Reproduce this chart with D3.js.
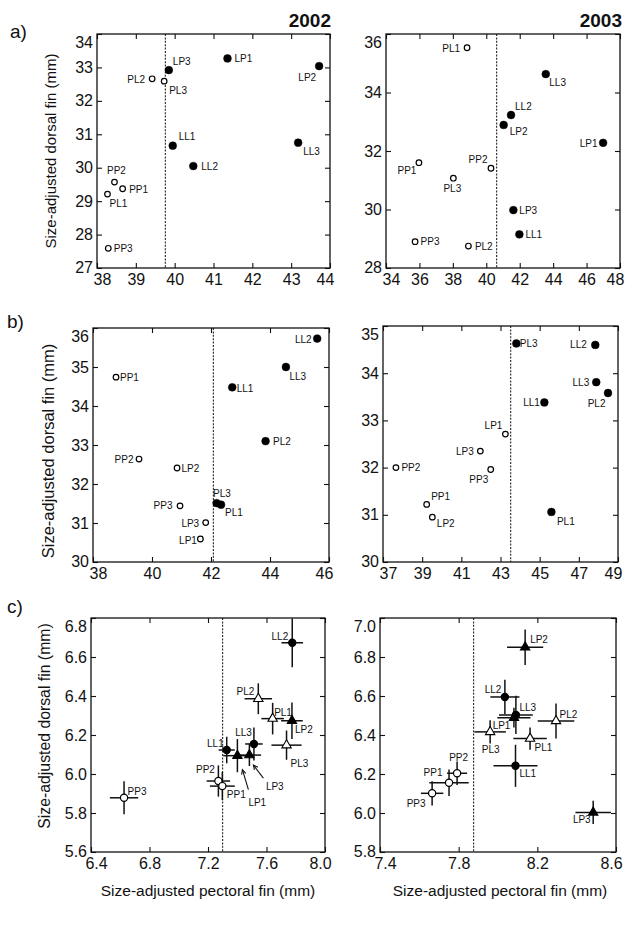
<!DOCTYPE html>
<html><head><meta charset="utf-8">
<script src="https://cdn.jsdelivr.net/npm/d3@7"></script>
<style>
body{margin:0;background:#fff}
svg{display:block}
text{font-family:"Liberation Sans",Arial,Helvetica,sans-serif;fill:#111}
</style>
</head><body>
<svg id="c" width="628" height="931"></svg>
<script>
// ---------------- DATA ----------------
// a) 2002
const popsA02 = ["LP3","LP1","LP2","PL2","PL3","LL1","LL2","LL3","PP2","PP1","PL1","PP3"];
const pectA02 = [39.85,41.36,43.72,39.42,39.73,39.95,40.48,43.18,38.45,38.66,38.27,38.29];
const dorsA02 = [32.92,33.27,33.04,32.66,32.59,30.66,30.05,30.75,29.57,29.37,29.21,27.59];
const grpA02  = [1,1,1,0,0,1,1,1,0,0,0,0];
const splitA02 = 39.76;
// a) 2003
const popsA03 = ["PL1","LL3","LL2","LP2","LP1","PP1","PP2","PL3","LP3","LL1","PP3","PL2"];
const pectA03 = [38.85,43.56,41.48,41.04,46.99,35.97,40.28,38.03,41.62,41.98,35.74,38.93];
const dorsA03 = [35.53,34.63,33.23,32.89,32.28,31.60,31.41,31.07,29.98,29.15,28.90,28.75];
const grpA03  = [0,1,1,1,1,0,0,0,1,1,0,0];
const splitA03 = 40.62;
// b) 2002
const popsB02 = ["LL2","LL3","PP1","LL1","PL2","PP2","LP2","PL3","PL1","PP3","LP3","LP1"];
const pectB02 = [45.60,44.54,38.78,42.72,43.85,39.56,40.85,42.19,42.34,40.95,41.82,41.64];
const dorsB02 = [35.73,35.00,34.74,34.48,33.10,32.64,32.41,31.51,31.47,31.44,31.01,30.59];
const grpB02  = [1,1,0,1,1,0,0,1,1,0,0,0];
const splitB02 = 42.08;
// b) 2003
const popsB03 = ["PL3","LL2","LL3","PL2","LL1","LP1","LP3","PP2","PP3","PP1","LP2","PL1"];
const pectB03 = [43.81,47.84,47.89,48.49,45.24,43.25,41.97,37.66,42.50,39.23,39.52,45.60];
const dorsB03 = [34.63,34.60,33.81,33.58,33.38,32.71,32.35,32.00,31.96,31.22,30.95,31.06];
const grpB03  = [1,1,1,1,1,0,0,0,0,0,0,1];
const splitB03 = 43.52;
// c) 2002 (means with error bars)
const popsC02 = ["LL2","PL2","PL1","LP2","PL3","LL3","LL1","LP1","LP3","PP2","PP1","PP3"];
const pectC02 = [7.776,7.544,7.642,7.774,7.737,7.514,7.328,7.401,7.483,7.271,7.298,6.626];
const dorsC02 = [6.673,6.386,6.284,6.273,6.148,6.154,6.123,6.094,6.097,5.964,5.938,5.878];
const pectErrC02 = [0.074,0.094,0.077,0.074,0.103,0.060,0.055,0.097,0.080,0.080,0.085,0.097];
const dorsErrC02 = [0.125,0.079,0.081,0.094,0.075,0.085,0.068,0.085,0.056,0.080,0.072,0.085];
const splitC02 = 7.30;
// c) 2003
const popsC03 = ["LP2","LL2","LL3","LP1","PL2","PL3","PL1","LL1","PP2","PP1","PP3","LP3"];
const pectC03 = [8.138,8.035,8.091,8.081,8.295,7.960,8.163,8.089,7.792,7.751,7.665,8.484];
const dorsC03 = [6.850,6.595,6.503,6.489,6.472,6.416,6.382,6.242,6.204,6.155,6.101,6.003];
const pectErrC03 = [0.092,0.074,0.086,0.084,0.093,0.080,0.085,0.112,0.051,0.100,0.057,0.090];
const dorsErrC03 = [0.091,0.088,0.098,0.051,0.090,0.060,0.057,0.108,0.060,0.068,0.062,0.060];
const splitC03 = 7.876;

// tick values
const xTicksA02 = [38,39,40,41,42,43,44];
const yTicksA02 = [27,28,29,30,31,32,33,34];
const xTicksA03 = [34,36,38,40,42,44,46,48];
const yTicksA03 = [28,30,32,34,36];
const xTicksB02 = [38,40,42,44,46];
const yTicksB02 = [30,31,32,33,34,35,36];
const xTicksB03 = [37,39,41,43,45,47,49];
const yTicksB03 = [30,31,32,33,34,35];
const xTicksC02 = [6.4,6.8,7.2,7.6,8.0];
const yTicksC02 = [5.6,5.8,6.0,6.2,6.4,6.6,6.8];
const xTicksC03 = [7.4,7.8,8.2,8.6];
const yTicksC03 = [5.8,6.0,6.2,6.4,6.6,6.8,7.0];

const yearLabels = ["2002","2003"];
const panelLetters = ["a)","b)","c)"];
const yTitle = "Size-adjusted dorsal fin (mm)";
const xTitle = "Size-adjusted pectoral fin (mm)";

// ---------------- LAYOUT (label placement: anchor, dx, dy) ----------------
const labA02 = [["start",4,-5],["start",7,3.5],["end",-3,14.5],["end",-7,4],["start",5,13],["start",6,-6],["start",8,4],["start",5,12],["middle",2,-8],["start",6.5,4.5],["start",2,13],["start",5.5,3.5]];
const labA03 = [["end",-7,4],["start",3.5,12],["start",4,-5],["start",6,10],["end",-5.5,4],["end",-2.5,11.5],["end",-3.5,-5],["middle",-1,13.5],["start",6,4],["start",6,4],["start",5.5,3.5],["start",6.5,4]];
const labB02 = [["end",-5.5,4],["start",3.5,13],["start",4,4],["start",4.5,4.5],["start",7.5,4],["end",-5.5,4],["start",4.5,4],["start",-3.5,-6],["start",4,11],["end",-7.5,3.5],["end",-6.5,4],["end",-3.5,5.5]];
const labB03 = [["start",3.5,4],["end",-8.5,3.5],["end",-7,3.5],["end",-2.5,13.5],["end",-4.5,3.5],["end",-3,-5.5],["end",-6.5,4],["start",5.5,3.5],["end",-2.5,14],["start",4.5,-4.5],["start",4.5,9.5],["start",5.5,13]];
const labC02 = [["end",-4,-3],["end",-4,-4],["start",1.5,-3],["start",3,12.5],["start",4,21.5],["end",-2,-8],["end",-3,-3],["start",11,50],["start",16.5,34.5],["end",-3.5,-8],["start",4.5,11.5],["start",3.5,-3]];
const labC03 = [["start",5,-4],["end",-3.5,-3.5],["start",3.5,-3.5],["end",-3.5,11],["start",3.5,-2.5],["middle",0.5,21.5],["start",4.5,12.5],["start",4,11],["middle",1.5,-12.5],["end",-6.5,-7],["end",-6.5,13.5],["end",-2.5,11]];
const arrowsC02 = {"LP1":[11,34,5,14],"LP3":[14,23,4,10]};

// ---------------- DRAW ----------------
const svg = d3.select("#c");

function drawPanel(o){
  const x = d3.scaleLinear().domain(o.xd).range([o.l,o.r]);
  const y = d3.scaleLinear().domain(o.yd).range([o.b,o.t]);
  const g = svg.append("g");
  // split line
  g.append("line").attr("x1",x(o.split)).attr("x2",x(o.split))
    .attr("y1",o.t).attr("y2",o.b)
    .attr("stroke","#222").attr("stroke-width",1.1).attr("stroke-dasharray","2,1.4");
  const fmt = o.fmt;
  const nx = o.xt.length, ny = o.yt.length;
  const ab = g.append("g").attr("transform",`translate(0,${o.b})`)
    .call(d3.axisBottom(x).tickValues(o.xt).tickSize(-5).tickPadding(6).tickFormat(fmt));
  const at = g.append("g").attr("transform",`translate(0,${o.t})`)
    .call(d3.axisTop(x).tickValues(o.xt).tickSize(-5).tickFormat(""));
  const al = g.append("g").attr("transform",`translate(${o.l},0)`)
    .call(d3.axisLeft(y).tickValues(o.yt).tickSize(-5).tickPadding(4).tickFormat(fmt));
  const ar = g.append("g").attr("transform",`translate(${o.r},0)`)
    .call(d3.axisRight(y).tickValues(o.yt).tickSize(-5).tickFormat(""));
  [ab,at,al,ar].forEach(a=>{
    a.select(".domain").remove();
    a.selectAll(".tick line").attr("stroke","#111").attr("stroke-width",1.1);
    a.selectAll("text").attr("font-size",16).attr("fill","#111")
      .style("font-family",'"Liberation Sans",Arial,sans-serif');
  });
  // nudge edge labels inward
  ab.selectAll(".tick text").attr("dx",(d,i)=> i===0?5:(i===nx-1?-5:0));
  al.selectAll(".tick text").attr("dy",(d,i)=> i===ny-1?"0.82em":(i===0?"0.25em":"0.32em"));
  // frame
  g.append("rect").attr("x",o.l).attr("y",o.t).attr("width",o.r-o.l).attr("height",o.b-o.t)
    .attr("fill","none").attr("stroke","#111").attr("stroke-width",1.3);
  return {x,y,g};
}

function scatterPanel(o, pops, px, py, grp, lab){
  const {x,y,g} = drawPanel(o);
  const pts = pops.map((p,i)=>({p,x:px[i],y:py[i],f:grp[i],l:lab[i]}));
  g.selectAll("circle.pt").data(pts).enter().append("circle")
    .attr("cx",d=>x(d.x)).attr("cy",d=>y(d.y))
    .attr("r",d=>d.f?3.9:2.8)
    .attr("fill",d=>d.f?"#000":"#fff")
    .attr("stroke","#000").attr("stroke-width",d=>d.f?0.5:1.2);
  g.selectAll("text.lbl").data(pts).enter().append("text")
    .attr("x",d=>x(d.x)+d.l[1]).attr("y",d=>y(d.y)+d.l[2])
    .attr("text-anchor",d=>d.l[0]).attr("font-size",10).attr("fill","#222")
    .text(d=>d.p);
}

function errPanel(o, pops, px, py, ex, ey, lab, arrows){
  const {x,y,g} = drawPanel(o);
  const pts = pops.map((p,i)=>({p,x:px[i],y:py[i],ex:ex[i],ey:ey[i],l:lab[i]}));
  const eb = g.append("g").attr("stroke","#111").attr("stroke-width",1.5);
  pts.forEach(d=>{
    eb.append("line").attr("x1",x(d.x-d.ex)).attr("x2",x(d.x+d.ex)).attr("y1",y(d.y)).attr("y2",y(d.y));
    eb.append("line").attr("x1",x(d.x)).attr("x2",x(d.x)).attr("y1",y(d.y-d.ey)).attr("y2",y(d.y+d.ey));
  });
  const tri = d3.symbol().type(d3.symbolTriangle).size(38);
  pts.forEach(d=>{
    const t = d.p.slice(0,2);
    const filled = (t==="LL"||t==="LP");
    if(t==="LL"||t==="PP"){
      g.append("circle").attr("cx",x(d.x)).attr("cy",y(d.y)).attr("r",3.6)
        .attr("fill",filled?"#000":"#fff").attr("stroke","#000").attr("stroke-width",1.2);
    } else {
      g.append("path").attr("d",tri()).attr("transform",`translate(${x(d.x)},${y(d.y)})`)
        .attr("fill",filled?"#000":"#fff").attr("stroke","#000").attr("stroke-width",1.1);
    }
  });
  g.selectAll("text.lbl").data(pts).enter().append("text")
    .attr("x",d=>x(d.x)+d.l[1]).attr("y",d=>y(d.y)+d.l[2])
    .attr("text-anchor",d=>d.l[0]).attr("font-size",10).attr("fill","#222")
    .text(d=>d.p);
  if(arrows){
    pts.forEach(d=>{
      const a = arrows[d.p]; if(!a) return;
      const cx=x(d.x), cy=y(d.y);
      const x1=cx+a[0], y1=cy+a[1], x2=cx+a[2], y2=cy+a[3];
      g.append("line").attr("x1",x1).attr("y1",y1).attr("x2",x2).attr("y2",y2)
        .attr("stroke","#111").attr("stroke-width",1.1);
      const ang = Math.atan2(y2-y1,x2-x1), L=5, w=0.45;
      g.append("path").attr("d",`M${x2-L*Math.cos(ang-w)},${y2-L*Math.sin(ang-w)}L${x2},${y2}L${x2-L*Math.cos(ang+w)},${y2-L*Math.sin(ang+w)}`)
        .attr("fill","none").attr("stroke","#111").attr("stroke-width",1.1);
    });
  }
}

const fInt = d3.format("d"), f1 = d3.format(".1f");

scatterPanel({l:97,r:330,t:34,b:268,xd:[38,44],yd:[27,34],xt:xTicksA02,yt:yTicksA02,fmt:fInt,split:splitA02},
  popsA02,pectA02,dorsA02,grpA02,labA02);
scatterPanel({l:386,r:620,t:34,b:268,xd:[34,48],yd:[28,36],xt:xTicksA03,yt:yTicksA03,fmt:fInt,split:splitA03},
  popsA03,pectA03,dorsA03,grpA03,labA03);
scatterPanel({l:93,r:329,t:328,b:562,xd:[38,46],yd:[30,36],xt:xTicksB02,yt:yTicksB02,fmt:fInt,split:splitB02},
  popsB02,pectB02,dorsB02,grpB02,labB02);
scatterPanel({l:383,r:618,t:326,b:562,xd:[37,49],yd:[30,35],xt:xTicksB03,yt:yTicksB03,fmt:fInt,split:splitB03},
  popsB03,pectB03,dorsB03,grpB03,labB03);
errPanel({l:91,r:325,t:618,b:852,xd:[6.4,8.0],yd:[5.6,6.8],xt:xTicksC02,yt:yTicksC02,fmt:f1,split:splitC02},
  popsC02,pectC02,dorsC02,pectErrC02,dorsErrC02,labC02,arrowsC02);
errPanel({l:380,r:616,t:618,b:852,xd:[7.4,8.6],yd:[5.8,7.0],xt:xTicksC03,yt:yTicksC03,fmt:f1,split:splitC03},
  popsC03,pectC03,dorsC03,pectErrC03,dorsErrC03,labC03,null);

// year titles
svg.append("text").attr("x",331).attr("y",27).attr("text-anchor","end")
  .attr("font-size",19).attr("font-weight","bold").text(yearLabels[0]);
svg.append("text").attr("x",622).attr("y",27).attr("text-anchor","end")
  .attr("font-size",19).attr("font-weight","bold").text(yearLabels[1]);
// panel letters
[[10,38],[7,328],[7,613]].forEach((p,i)=>{
  svg.append("text").attr("x",p[0]).attr("y",p[1]).attr("font-size",19).text(panelLetters[i]);
});
// y titles
[[50,151,15],[47.5,451,16.5],[44,726,15.8]].forEach(p=>{
  svg.append("text").attr("transform",`translate(${p[0]},${p[1]}) rotate(-90)`)
    .attr("text-anchor","middle").attr("dominant-baseline","central")
    .attr("font-size",p[2]).text(yTitle);
});
// x titles
[[208,896],[500,896]].forEach(p=>{
  svg.append("text").attr("x",p[0]).attr("y",p[1]).attr("text-anchor","middle")
    .attr("font-size",15.5).text(xTitle);
});
</script>
</body></html>
